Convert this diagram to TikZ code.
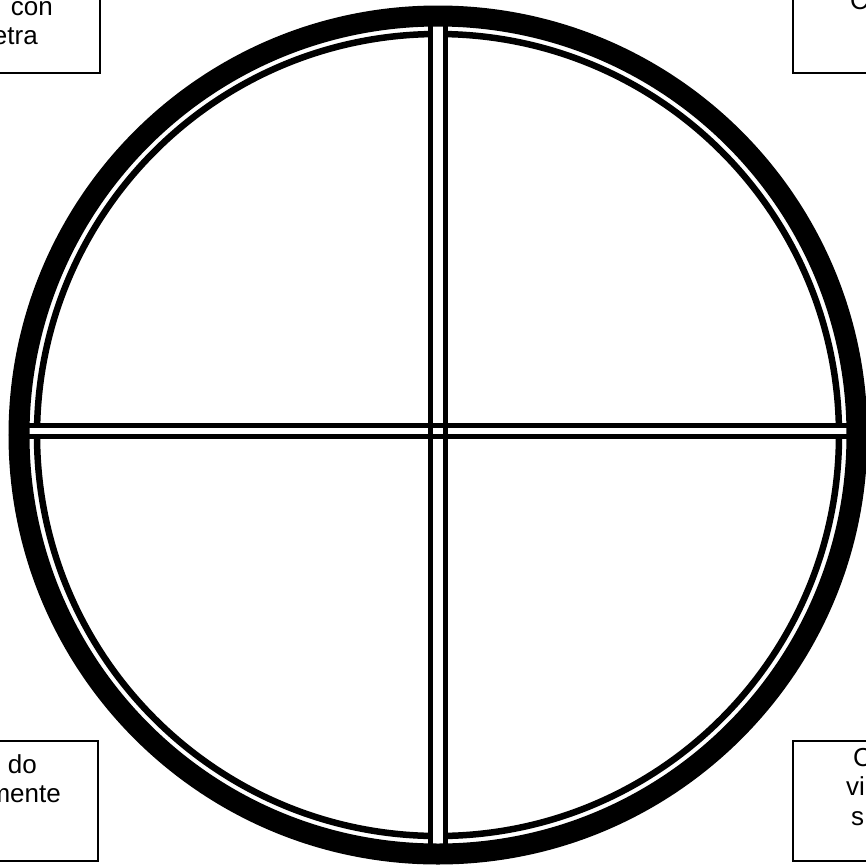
\documentclass[tikz,border=0pt]{standalone}
\usepackage{fontspec}
\setmainfont{Liberation Sans}
\usetikzlibrary{positioning}

\begin{document}
\begin{tikzpicture}[x=1pt,y=-1pt,
  every node/.style={font=\fontsize{26}{29}\selectfont,inner sep=0pt},
  notebox/.style={draw,line width=1.5pt,minimum width=200pt,minimum height=120pt},
  ring/.style={line width=21pt},
  thinring/.style={line width=6.5pt},
  bar/.style={line width=5.5pt}
]
  \useasboundingbox (0,0) rectangle (866,868);
  \clip (0,0) rectangle (866,868);

  % window: rings and cross
  \coordinate (o) at (438,435);
  \draw[thinring] (o) circle[radius=401];
  \fill[white] (433,20) rectangle (443,850);
  \fill[white] (20,428.2) rectangle (856,433.8);
  \draw[bar] (430.5,15) -- (430.5,855);
  \draw[bar] (445.5,15) -- (445.5,855);
  \draw[bar] (18,425.5) -- (858,425.5);
  \draw[bar] (18,436.5) -- (858,436.5);
  \draw[ring] (o) circle[radius=419];

  % corner notes
  \node[notebox] (tl) at (0,13) {};
  \node[anchor=base east] (tla) at (53,15) {con};
  \node[anchor=base east] (tlb) at (38,44) {etra};

  \node[notebox] (tr) at (893,13) {};
  \node[anchor=base west] (tra) at (850,9) {C};

  \node[notebox] (bl) at (-2,801) {};
  \node[anchor=base east] (bla) at (37,773) {do};
  \node[anchor=base east] (blb) at (61,802) {mente};

  \node[notebox] (br) at (893,801) {};
  \node[anchor=base west] (bra) at (853,766) {C};
  \node[anchor=base west] (brb) at (846,795) {vi};
  \node[anchor=base west] (brc) at (851,825) {s};
\end{tikzpicture}
\end{document}
